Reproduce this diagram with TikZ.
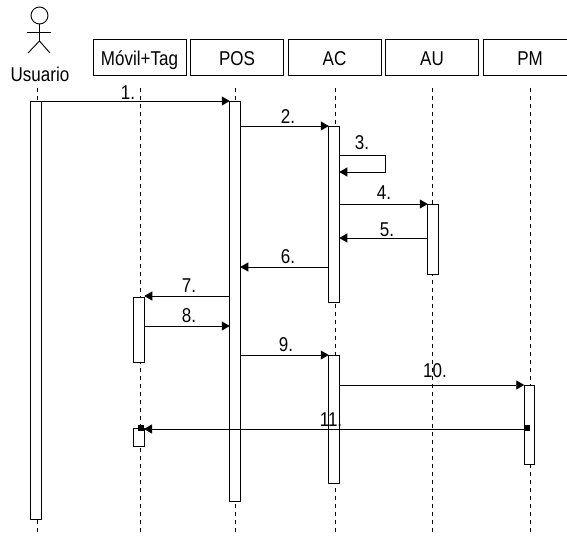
\documentclass[tikz,border=0pt]{standalone}
\usepackage{fontspec}
\setmainfont[FakeStretch=0.85]{Liberation Sans}
\usetikzlibrary{arrows.meta}
\tikzset{
  objbox/.style={draw, fill=white, line width=0.9pt, minimum width=93pt, minimum height=36pt, inner sep=0pt, outer sep=0pt, text height=18pt, text depth=0pt, font=\fontsize{20}{22}\selectfont},
  actbar/.style={draw, fill=white, line width=0.9pt, minimum width=10.5pt, anchor=north, inner sep=0pt, outer sep=0pt},
  lifeline/.style={dashed, dash pattern=on 4pt off 4pt, line width=0.9pt},
  msg/.style={-{Triangle[length=8pt, width=9pt]}, line width=0.9pt},
  msglabel/.style={inner sep=0pt, text height=15pt, text depth=0pt, font=\fontsize{20}{22}\selectfont},
  endmark/.style={fill=black, minimum size=6pt, inner sep=0pt, outer sep=0pt}
}

\begin{document}
\begin{tikzpicture}[x=1pt, y=-1pt]
      \useasboundingbox (0,0) rectangle (567,535);

      % actor
      \node[draw, circle, line width=0.9pt, minimum size=17pt, inner sep=0pt, outer sep=0pt] (head) at (39.5,15.5) {};
      \coordinate (hip) at (39.5,41);
      \draw[line width=0.9pt] (head.south) -- (hip);
      \draw[line width=0.9pt] (27,32) -- (51,32);
      \draw[line width=0.9pt] (28,53) -- (hip) -- (50,53);
      \node[msglabel] (lblUser) at (40,74) {Usuario};

      % objects
      \node[objbox] (boxTag) at (139.5,57) {Móvil+Tag};
      \node[objbox] (boxPOS) at (237,57) {POS};
      \node[objbox] (boxAC) at (334.5,57) {AC};
      \node[objbox] (boxAU) at (432,57) {AU};
      \node[objbox] (boxPM) at (530,57) {PM};

      % lifelines
      \coordinate (bottom) at (0,533);
      \coordinate (userTop) at (37,88);
      \coordinate (tagTop) at (140,88);
      \coordinate (posTop) at (235,88);
      \coordinate (acTop) at (335,88);
      \coordinate (auTop) at (432,88);
      \coordinate (pmTop) at (530,88);
      \draw[lifeline] (userTop) -- (userTop |- bottom);
      \draw[lifeline] (tagTop) -- (tagTop |- bottom);
      \draw[lifeline] (posTop) -- (posTop |- bottom);
      \draw[lifeline] (acTop) -- (acTop |- bottom);
      \draw[lifeline] (auTop) -- (auTop |- bottom);
      \draw[lifeline] (pmTop) -- (pmTop |- bottom);

      % activation bars
      \node[actbar, minimum height=418pt] (barUser) at (36,101) {};
      \node[actbar, minimum height=400pt] (barPOS) at (235,101) {};
      \node[actbar, minimum height=176pt] (barACa) at (334,126) {};
      \node[actbar, minimum height=128pt] (barACb) at (334,355) {};
      \node[actbar, minimum height=70pt] (barAU) at (433,204) {};
      \node[actbar, minimum height=65pt] (barTaga) at (139,297) {};
      \node[actbar, minimum height=18pt] (barTagb) at (139,428) {};
      \node[actbar, minimum height=79pt] (barPM) at (529.5,385) {};

      % messages
      \coordinate (loopA) at (385,155);
      \coordinate (loopB) at (385,172);
      \coordinate (yFive) at (0,238);
      \coordinate (ySix) at (0,267);
      \coordinate (ySeven) at (0,296);
      \coordinate (yEight) at (0,326);
      \coordinate (yEleven) at (0,429);
      \draw[msg] (barUser.north east) -- (barPOS.north west);
      \draw[msg] (barPOS.east |- barACa.north) -- (barACa.north west);
      \draw[msg] (barACa.east |- loopA) -- (loopA) -- (loopB) -- (barACa.east |- loopB);
      \draw[msg] (barACa.east |- barAU.north) -- (barAU.north west);
      \draw[msg] (barAU.west |- yFive) -- (barACa.east |- yFive);
      \draw[msg] (barACa.west |- ySix) -- (barPOS.east |- ySix);
      \draw[msg] (barPOS.west |- ySeven) -- (barTaga.east |- ySeven);
      \draw[msg] (barTaga.east |- yEight) -- (barPOS.west |- yEight);
      \draw[msg] (barPOS.east |- barACb.north) -- (barACb.north west);
      \draw[msg] (barACb.east |- barPM.north) -- (barPM.north west);

      % found message
      \node[endmark] (markPM) at (527,428) {};
      \node[endmark] (markTag) at (141,428) {};
      \draw[msg] (markPM.center |- yEleven) -- (markTag.east |- yEleven);

      \node[msglabel] (lblOne) at (128,92) {1.};
      \node[msglabel] (lblTwo) at (288,116) {2.};
      \node[msglabel] (lblThree) at (362,142) {3.};
      \node[msglabel] (lblFour) at (384,192) {4.};
      \node[msglabel] (lblFive) at (387,229) {5.};
      \node[msglabel] (lblSix) at (288,256) {6.};
      \node[msglabel] (lblSeven) at (189,285) {7.};
      \node[msglabel] (lblEight) at (189,315) {8.};
      \node[msglabel] (lblNine) at (286,344) {9.};
      \node[msglabel] (lblTen) at (435,370) {10.};
      \node[msglabel] (lblEleven) at (331,419) {11.};
    \end{tikzpicture}
\end{document}
